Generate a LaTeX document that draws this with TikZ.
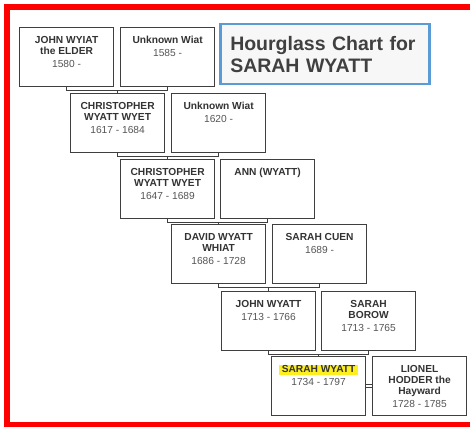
\documentclass[tikz,border=0pt]{standalone}
\usepackage{fontspec}
\setmainfont{Liberation Sans}

\definecolor{boxline}{HTML}{3F3F3F}
\definecolor{nametext}{HTML}{333333}
\definecolor{datetext}{HTML}{555555}
\definecolor{titletext}{HTML}{404040}
\definecolor{titleblue}{HTML}{5B9BD5}
\definecolor{titlefill}{HTML}{F7F7F7}
\definecolor{marker}{HTML}{FFEF1F}

% name lines in bold, dates below
\newcommand{\person}[2]{\parbox[t][41.8pt][t]{92pt}{\centering
  \fontsize{10.2}{11}\selectfont\color{nametext}\bfseries #1\par
  \vspace{2pt}\color{datetext}\mdseries #2}}
\newcommand{\marked}[1]{\raisebox{0pt}[7.4pt][0pt]{\setlength{\fboxsep}{0pt}%
  \colorbox{marker}{\rule[-2pt]{0pt}{10pt}\hspace{3pt}#1\hspace{3pt}}}}

\begin{document}
\begin{tikzpicture}[x=1pt, y=-1pt,
  box/.style={draw=boxline, line width=1.2pt, fill=white, anchor=north west,
    inner xsep=0pt, inner ysep=8.6pt, minimum width=94pt, minimum height=59pt},
  link/.style={draw=boxline, line width=1.1pt}]
  \fill[white] (0,0) rectangle (470,427);
  \useasboundingbox (0,0) rectangle (470,427);
  \clip (0,0) rectangle (470,427);
  \draw[red, line width=6pt] (480,7) -- (7,7) -- (7,424.5) -- (480,424.5);

  \node[draw=titleblue, line width=2.5pt, fill=titlefill, anchor=north west,
    minimum width=209pt, minimum height=60pt, text width=189pt, inner xsep=10pt,
    align=left, text=titletext, font=\fontsize{19.5}{22}\selectfont\bfseries]
    (title) at (219,23) {Hourglass Chart for\\SARAH WYATT};

  % ancestors on the left, spouses on the right
  \node[box] (l1) at (19,27)   {\person{JOHN WYIAT\\the ELDER}{1580 -}};
  \node[box] (r1) at (120,27)  {\person{Unknown Wiat}{1585 -}};
  \node[box] (l2) at (70,93)   {\person{CHRISTOPHER\\WYATT WYET}{1617 - 1684}};
  \node[box] (r2) at (171,93)  {\person{Unknown Wiat}{1620 -}};
  \node[box] (l3) at (120,159) {\person{CHRISTOPHER\\WYATT WYET}{1647 - 1689}};
  \node[box] (r3) at (220,159) {\person{ANN (WYATT)}{}};
  \node[box] (l4) at (171,224) {\person{DAVID WYATT\\WHIAT}{1686 - 1728}};
  \node[box] (r4) at (272,224) {\person{SARAH CUEN}{1689 -}};
  \node[box] (l5) at (221,291) {\person{JOHN WYATT}{1713 - 1766}};
  \node[box] (r5) at (321,291) {\person{SARAH\\BOROW}{1713 - 1765}};
  \node[box] (l6) at (271,356) {\person{\marked{SARAH WYATT}}{1734 - 1797}};
  \node[box] (r6) at (372,356) {\person{LIONEL\\HODDER the\\Hayward}{1728 - 1785}};

  \foreach \k/\n in {1/2, 2/3, 3/4, 4/5, 5/6}{
    \draw[link] (l\k.south) -- ++(0,3) coordinate (bar) -| (r\k.south);
    \draw[link] (l\n.north) -- (l\n.north |- bar);
  }
  \draw[link, line width=0.9pt, double, double distance=1.6pt] (l6.east) -- (r6.west);
\end{tikzpicture}
\end{document}
